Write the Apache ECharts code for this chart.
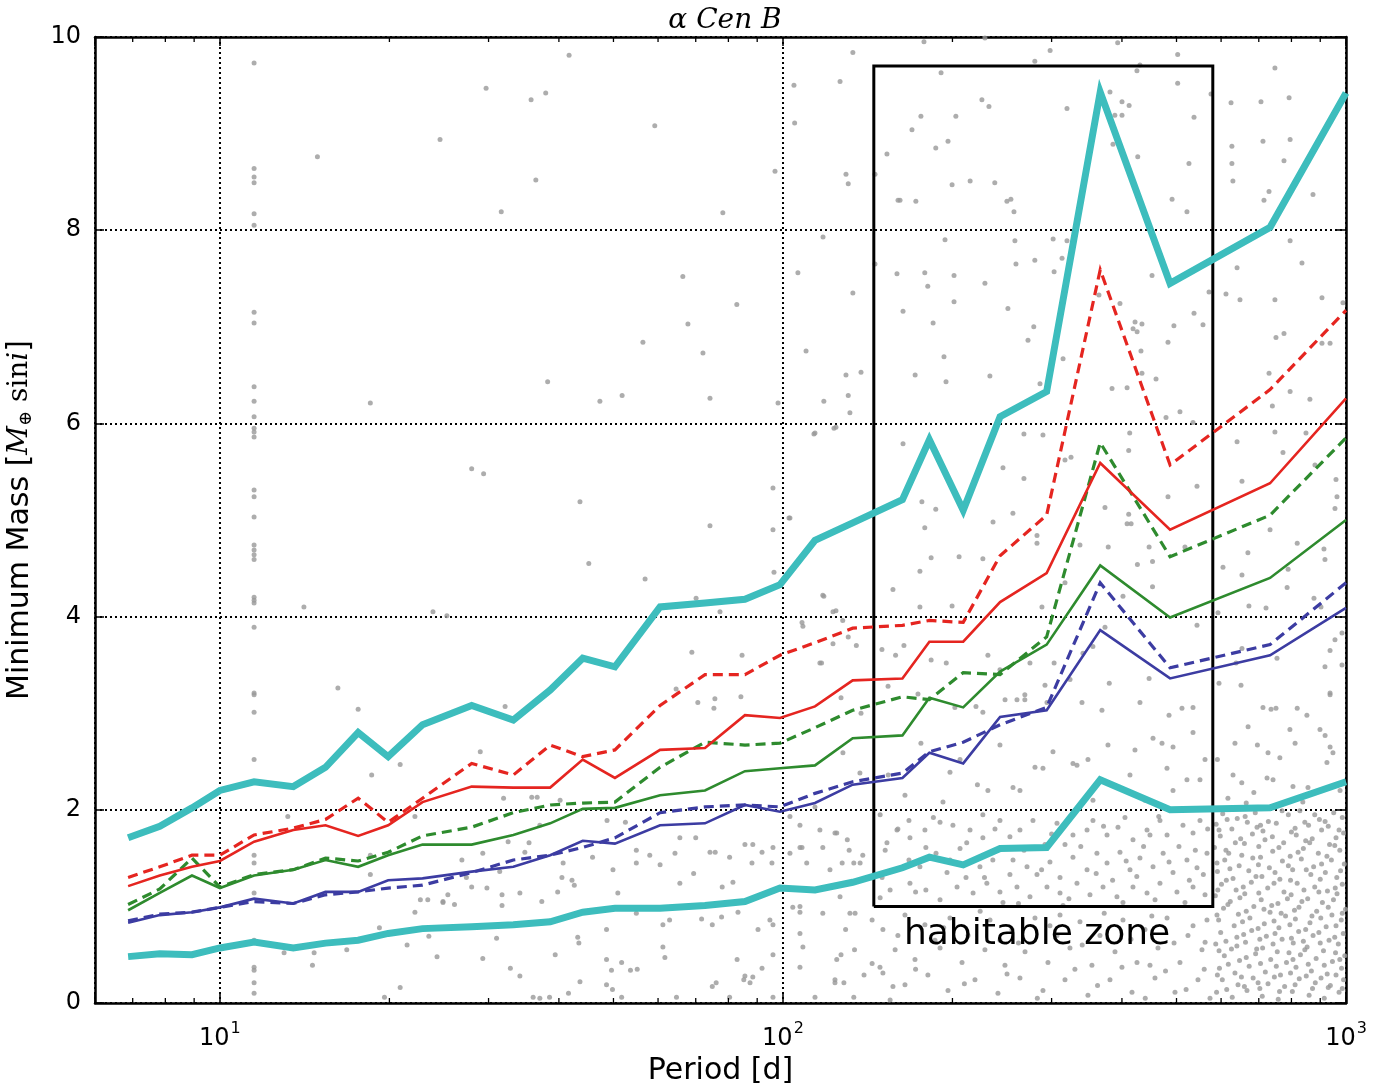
<!DOCTYPE html>
<html>
<head>
<meta charset="utf-8">
<script src="https://cdn.jsdelivr.net/npm/echarts@6/dist/echarts.min.js"></script>
<style>
  html, body { margin: 0; padding: 0; background: #fff; }
  #chart { width: 1390px; height: 1085px; }
</style>
</head>
<body>
<div id="chart"></div>
<script>
// periods (d) shared by all detection-limit curves
const periods = [6.87, 7.82, 8.92, 10.0, 11.5, 13.5, 15.4, 17.6, 19.9, 22.9, 28.0, 33.2, 38.6, 44.1, 50.3,
  60.5, 72.7, 85.6, 98.8, 114, 133, 163, 182, 209, 243, 294, 366, 487, 733, 1000];

const cyanHigh = [1.71, 1.83, 2.02, 2.20, 2.29, 2.24, 2.44, 2.80, 2.55, 2.88, 3.08, 2.93, 3.24, 3.57, 3.48,
  4.10, 4.14, 4.18, 4.33, 4.79, 4.97, 5.21, 5.83, 5.10, 6.07, 6.33, 9.43, 7.45, 8.03, 9.42];
const redDashed = [1.30, 1.41, 1.53, 1.53, 1.74, 1.81, 1.90, 2.12, 1.87, 2.12, 2.48, 2.36, 2.67, 2.55, 2.62,
  3.08, 3.40, 3.40, 3.60, 3.73, 3.88, 3.91, 3.96, 3.94, 4.63, 5.05, 7.59, 5.57, 6.35, 7.17];
const redSolid = [1.21, 1.32, 1.41, 1.47, 1.67, 1.79, 1.84, 1.73, 1.84, 2.08, 2.24, 2.23, 2.23, 2.52, 2.33,
  2.62, 2.64, 2.98, 2.95, 3.07, 3.34, 3.36, 3.74, 3.74, 4.15, 4.45, 5.59, 4.90, 5.38, 6.26];
const greenDashed = [1.02, 1.18, 1.50, 1.20, 1.33, 1.38, 1.50, 1.47, 1.56, 1.73, 1.82, 1.97, 2.05, 2.07, 2.08,
  2.44, 2.70, 2.67, 2.69, 2.85, 3.03, 3.17, 3.14, 3.42, 3.40, 3.79, 5.80, 4.62, 5.05, 5.85];
const greenSolid = [0.96, 1.14, 1.32, 1.19, 1.32, 1.38, 1.48, 1.41, 1.53, 1.64, 1.64, 1.74, 1.86, 2.01, 2.02,
  2.15, 2.20, 2.40, 2.43, 2.46, 2.74, 2.77, 3.16, 3.06, 3.43, 3.71, 4.53, 3.99, 4.40, 5.00];
const blueDashed = [0.85, 0.92, 0.94, 0.99, 1.05, 1.03, 1.12, 1.15, 1.19, 1.22, 1.35, 1.48, 1.53, 1.61, 1.71,
  1.97, 2.03, 2.05, 2.03, 2.17, 2.29, 2.38, 2.60, 2.70, 2.88, 3.06, 4.35, 3.47, 3.71, 4.35];
const blueSolid = [0.83, 0.91, 0.94, 0.99, 1.08, 1.03, 1.15, 1.15, 1.27, 1.29, 1.36, 1.41, 1.53, 1.68, 1.65,
  1.84, 1.86, 2.05, 1.98, 2.07, 2.26, 2.33, 2.59, 2.48, 2.96, 3.03, 3.86, 3.36, 3.60, 4.09];
const cyanLow = [0.48, 0.51, 0.50, 0.57, 0.63, 0.57, 0.62, 0.65, 0.72, 0.77, 0.79, 0.81, 0.84, 0.94, 0.98,
  0.98, 1.01, 1.05, 1.19, 1.17, 1.25, 1.40, 1.51, 1.43, 1.60, 1.61, 2.31, 2.00, 2.02, 2.29];

// habitable zone box corners [period, mass]
const hzBox = [[145, 1.0], [145, 9.7], [580, 9.7], [580, 1.0], [145, 1.0]];

// injected-signal points, [period, mass]
const column11 = [9.73, 8.64, 8.55, 8.49, 8.17, 8.05, 7.15, 7.04, 6.38, 6.23, 6.07, 5.95, 5.91, 5.86, 5.31, 5.24,
  5.03, 4.74, 4.69, 4.64, 4.59, 4.20, 4.17, 4.14, 3.89, 3.21, 3.19, 3.01, 2.52, 1.53, 1.45, 1.14, 0.65, 0.37,
  0.34, 0.21, 0.10];

const sparsePts = [
  [14.9, 8.76], [24.6, 8.94], [18.5, 6.21], [14.1, 4.10], [23.9, 4.05], [25.3, 4.01], [16.2, 3.26], [17.6, 3.04],
  [13.2, 1.93], [18.6, 2.36], [20.9, 2.47], [18.5, 1.53], [18.5, 1.33], [22.2, 1.93], [22.2, 0.94], [22.7, 1.07],
  [23.4, 1.07], [24.9, 1.04], [26.1, 1.02], [13.0, 0.52], [14.7, 0.52], [14.6, 0.39], [16.8, 0.55], [19.2, 0.78],
  [21.5, 0.60], [23.5, 0.69], [24.3, 0.48], [20.9, 0.16], [19.6, 0.06],
  [41.7, 9.81], [29.7, 9.47], [35.7, 9.35], [37.9, 9.42], [59.2, 9.08], [36.4, 8.52], [31.6, 8.19], [78.2, 8.18],
  [96.8, 8.61], [104.6, 9.50], [104.9, 9.11], [126.3, 9.54], [133.1, 9.84], [129.4, 8.58], [130.6, 8.48],
  [153.0, 8.79], [145.7, 8.58], [160.1, 8.31], [117.8, 7.93], [106.3, 7.56], [133.1, 7.35], [145.7, 7.65],
  [159.4, 7.55], [66.4, 7.52], [82.8, 7.23], [67.8, 7.03], [56.4, 6.84], [72.1, 6.73], [109.9, 6.75],
  [38.2, 6.43], [47.3, 6.23], [51.8, 6.29], [74.2, 6.26], [98.0, 6.21], [129.4, 6.50], [137.6, 6.53],
  [118.2, 6.23], [130.6, 6.29], [131.5, 6.11], [123.2, 5.95], [113.5, 5.89], [28.0, 5.53], [29.4, 5.48],
  [43.6, 5.19], [96.0, 5.33], [102.5, 5.02], [96.0, 4.90], [74.2, 4.94], [45.2, 4.55], [56.9, 4.39],
  [96.4, 4.46], [118.2, 4.21], [156.8, 4.28], [70.1, 4.19], [77.3, 4.05], [124.2, 4.06], [127.7, 3.96],
  [108.5, 3.90], [68.9, 3.63], [84.6, 3.60], [122.7, 3.72], [130.6, 3.79], [135.0, 3.70], [116.3, 3.52],
  [149.9, 3.66], [158.5, 3.60], [32.1, 3.07], [64.6, 3.25], [70.6, 3.11], [75.7, 3.15], [75.4, 3.05],
  [84.2, 3.17], [126.8, 3.16], [137.6, 3.00], [153.7, 3.28],
  [114.0, 5.90], [124.2, 5.96], [102.9, 5.02], [117.7, 4.22], [122.7, 4.05], [108.1, 3.94], [117.1, 3.52],
  [127.8, 2.59], [137.0, 2.38], [114.0, 2.03]
];

const hzUpperPts = [
  [178.0, 9.95], [228.4, 9.99], [298.2, 9.86], [280.1, 9.75], [393.1, 9.94], [502.4, 9.82], [430.6, 9.71],
  [425.3, 9.65], [190.9, 9.63], [502.4, 9.52], [575.8, 9.41], [747.8, 9.68], [624.9, 9.32], [706.3, 9.33],
  [792.4, 9.37], [380.9, 9.43], [400.1, 9.33], [411.9, 9.29], [388.6, 9.19], [400.1, 9.19], [319.5, 9.26],
  [225.6, 9.35], [232.2, 9.28], [175.8, 9.18], [202.8, 9.18], [169.5, 9.04], [196.4, 8.92], [186.8, 8.85],
  [537.1, 9.17], [385.6, 8.89], [426.7, 8.76], [526.1, 8.69], [627.1, 8.87], [627.1, 8.69], [629.7, 8.51],
  [712.1, 8.92], [795.7, 8.94], [776.0, 8.72], [729.9, 8.40], [715.0, 8.31], [873.7, 8.37], [199.7, 8.47],
  [215.0, 8.51], [237.8, 8.49], [172.2, 8.30], [161.4, 8.31], [249.9, 8.30], [254.0, 8.32], [257.2, 8.19],
  [491.0, 8.32], [521.8, 8.19], [194.0, 7.90], [258.2, 7.89], [301.9, 7.91], [319.5, 7.89], [795.7, 7.89],
  [640.5, 7.61], [835.3, 7.66], [178.6, 7.56], [180.8, 7.42], [201.3, 7.53], [228.4, 7.45], [259.3, 7.65],
  [280.1, 7.69], [303.1, 7.57], [313.1, 7.71], [452.4, 7.53], [163.4, 7.16], [201.3, 7.26], [250.9, 7.19],
  [184.8, 7.04], [278.9, 7.00], [272.4, 6.86], [364.1, 7.33], [396.8, 7.24], [422.0, 7.05], [434.1, 7.03],
  [418.6, 6.98], [425.6, 6.95], [432.4, 6.75], [482.9, 6.84], [494.7, 7.01], [537.1, 7.14], [557.2, 7.02],
  [571.1, 7.36], [612.1, 7.34], [648.2, 7.28], [747.8, 7.28], [906.4, 7.30], [987.7, 7.25], [751.0, 6.89],
  [776.0, 6.93], [906.4, 6.83], [936.9, 6.83], [314.4, 6.67], [193.2, 6.69],
  [171.7, 6.50], [194.8, 6.43], [233.1, 6.49], [286.1, 6.41], [384.1, 6.36], [408.5, 6.37], [434.1, 6.52],
  [459.8, 6.46], [730.0, 6.52], [795.7, 6.33], [862.7, 6.25], [740.0, 6.18], [507.1, 6.12], [534.9, 6.01],
  [479.0, 6.06], [163.4, 5.79], [267.9, 5.89], [289.6, 5.88], [412.9, 5.90], [411.2, 5.72], [324.8, 5.65],
  [316.9, 5.62], [640.5, 5.81], [747.8, 5.91], [849.0, 5.90], [772.8, 5.70], [880.8, 5.57], [245.9, 5.54],
  [267.9, 5.43], [959.9, 5.42], [543.7, 5.35], [482.9, 5.24], [653.5, 5.40], [176.5, 5.19], [186.8, 5.11],
  [236.1, 4.98], [256.1, 5.07], [411.2, 5.06], [373.2, 5.13], [408.5, 4.96], [415.3, 4.96], [178.6, 4.92],
  [282.6, 4.84], [282.6, 4.76], [733.0, 4.90], [955.9, 5.12], [963.8, 5.24], [336.9, 4.74], [378.2, 4.72],
  [447.0, 4.72], [517.6, 4.72], [819.1, 4.76], [913.8, 4.70], [183.3, 4.61], [205.5, 4.62], [226.5, 4.60],
  [175.1, 4.47], [426.1, 4.54], [453.3, 4.57], [669.5, 4.66], [917.5, 4.59], [604.7, 4.51], [789.2, 4.49],
  [653.5, 4.43], [316.9, 4.35], [453.3, 4.31], [786.0, 4.30], [401.7, 4.21], [175.1, 4.10], [199.7, 4.11],
  [288.4, 4.10], [877.2, 4.19], [902.7, 4.10], [672.3, 4.11], [592.4, 4.04], [721.0, 4.09], [543.7, 3.91],
  [164.0, 3.70], [183.3, 3.55], [195.0, 3.52], [231.2, 3.60], [274.6, 3.52], [373.2, 3.89], [355.2, 3.69],
  [341.1, 3.62], [653.5, 3.67], [936.9, 3.65], [955.9, 3.76], [917.5, 3.48], [983.7, 3.50], [637.9, 3.52],
  [754.1, 3.57], [242.9, 3.45], [303.1, 3.52], [323.5, 3.35], [379.8, 3.31], [447.0, 3.36], [594.9, 3.31],
  [650.9, 3.29], [936.9, 3.21], [173.7, 3.20], [202.0, 3.06], [220.2, 3.07], [226.5, 3.01], [248.0, 3.14],
  [268.9, 3.19], [268.9, 3.14], [260.4, 3.14], [292.0, 3.29], [294.4, 3.11], [339.7, 3.11], [368.6, 3.03],
  [430.6, 3.11], [484.9, 2.98], [511.3, 3.05], [534.9, 3.06], [712.1, 3.06], [736.0, 3.04], [751.0, 3.05],
  [819.1, 3.05], [852.2, 2.98], [936.9, 3.19], [983.7, 3.83]
];

const midLowPts = [
  [29.0, 2.60], [31.9, 2.12], [35.8, 2.13], [36.6, 2.13], [40.2, 2.10], [26.9, 1.48], [29.3, 1.55], [31.4, 1.36],
  [34.8, 1.56], [32.5, 1.67], [35.4, 1.66], [40.7, 1.45], [37.0, 1.84], [48.7, 1.89], [52.5, 1.87], [25.4, 1.12],
  [28.0, 1.20], [27.4, 1.30], [29.8, 1.19], [31.7, 1.12], [31.7, 1.01], [34.1, 1.14], [37.3, 1.05], [39.8, 1.15],
  [42.2, 1.27], [42.6, 1.22], [40.5, 1.30], [45.9, 1.51], [49.9, 1.38], [50.9, 1.14], [54.9, 1.58], [54.9, 1.45],
  [58.0, 1.53], [60.5, 1.43], [65.6, 1.71], [70.0, 1.71], [65.6, 1.24], [69.4, 1.34], [64.3, 1.55], [74.2, 1.56],
  [75.8, 1.56], [80.4, 1.51], [78.0, 1.20], [81.5, 1.25], [88.1, 1.45], [85.6, 1.64], [88.4, 1.64], [91.8, 1.56],
  [95.6, 1.45], [96.0, 1.61], [102.9, 1.55], [107.2, 1.84], [107.2, 1.61], [110.2, 1.45], [116.3, 1.79],
  [124.6, 1.76], [117.7, 1.61], [130.1, 1.69], [131.1, 1.58], [138.6, 1.53], [127.4, 1.45], [133.6, 1.45],
  [153.0, 1.66], [159.4, 1.79], [24.9, 1.05], [31.0, 0.67], [29.3, 0.46], [32.8, 0.36], [34.1, 0.28], [39.4, 0.50],
  [36.0, 0.06], [37.0, 0.05], [38.5, 0.06], [41.6, 0.10], [43.2, 0.68], [43.4, 0.62], [43.6, 0.22], [48.6, 0.76],
  [48.6, 0.45], [51.7, 0.42], [49.6, 0.34], [53.6, 0.34], [55.1, 0.35], [48.6, 0.19], [49.8, 0.14], [51.7, 0.06],
  [54.9, 0.93], [61.2, 0.81], [61.2, 0.58], [61.7, 0.47], [62.9, 0.86], [64.7, 0.06], [71.7, 0.87], [77.8, 0.89],
  [74.9, 0.81], [82.9, 0.45], [85.6, 0.28], [88.4, 0.27], [85.2, 0.24], [87.4, 0.21], [74.9, 0.17], [76.1, 0.21],
  [80.4, 0.06], [83.2, 0.94], [90.3, 0.76], [94.8, 0.86], [96.0, 0.81], [91.8, 0.36], [96.0, 0.50], [96.0, 0.06],
  [104.1, 0.99], [107.2, 0.94], [107.2, 0.72], [108.5, 0.58], [107.2, 0.37], [114.0, 0.06], [117.7, 0.93],
  [124.6, 0.45], [126.8, 0.50], [129.2, 0.76], [131.5, 0.93], [134.0, 0.55], [123.7, 0.24], [123.7, 0.21],
  [128.3, 0.21], [133.6, 0.06], [139.3, 0.29], [144.0, 0.41], [148.7, 0.37], [150.5, 0.31], [156.8, 0.17],
  [144.0, 0.86], [150.5, 0.76], [102.9, 1.93], [108.1, 1.61], [123.7, 1.76], [121.2, 1.38], [137.1, 1.45],
  [126.3, 1.10], [107.2, 1.00], [134.3, 0.93]
];

const hzLowPts = [
  [175.8, 2.69], [198.0, 2.39], [221.5, 2.26], [231.2, 2.20], [256.2, 2.23], [280.3, 2.44], [289.6, 2.43],
  [301.7, 2.60], [327.4, 2.48], [332.8, 2.46], [348.1, 2.52], [377.8, 2.67], [413.4, 2.36], [421.9, 2.62],
  [454.2, 2.74], [471.2, 2.69], [492.9, 2.65], [534.9, 2.80], [521.8, 2.31], [550.4, 2.31], [492.9, 2.20],
  [480.9, 2.43], [192.4, 2.08], [164.7, 2.15], [206.3, 2.52], [242.9, 2.67], [263.6, 2.20], [355.3, 2.10],
  [439.5, 2.10], [153.8, 2.36], [561.8, 2.52],
  [167.4, 1.89], [190.1, 1.87], [226.5, 1.95], [242.9, 1.89], [278.0, 1.89], [355.3, 1.89], [393.6, 1.82],
  [467.3, 1.89], [550.4, 1.89], [306.7, 1.86], [148.8, 1.95], [178.7, 1.79], [200.4, 1.84], [214.9, 1.79],
  [253.0, 1.72], [263.6, 1.79], [327.4, 1.74], [346.8, 1.79], [376.3, 1.74], [418.5, 1.69], [443.2, 1.79],
  [448.6, 1.74], [481.0, 1.74], [513.4, 1.84], [534.9, 1.76], [168.1, 1.71], [226.5, 1.71], [292.0, 1.64],
  [405.0, 1.92], [179.4, 1.61], [298.0, 1.46], [187.0, 1.55], [195.6, 1.35], [211.4, 1.30], [223.8, 1.41],
  [235.9, 1.48], [256.2, 1.48], [271.3, 1.41], [282.6, 1.33], [310.5, 1.30], [327.4, 1.51], [346.8, 1.38],
  [361.1, 1.55], [376.3, 1.45], [396.8, 1.56], [413.4, 1.38], [430.6, 1.50], [454.2, 1.41], [473.4, 1.55],
  [492.9, 1.35], [521.8, 1.48], [543.7, 1.40], [566.4, 1.55], [167.4, 1.48], [175.1, 1.41], [151.9, 1.58],
  [206.3, 1.60], [253.0, 1.33], [316.9, 1.64], [168.1, 1.24], [179.4, 1.17], [203.8, 1.20], [217.6, 1.14],
  [230.2, 1.24], [242.9, 1.15], [260.4, 1.20], [274.6, 1.10], [294.4, 1.20], [310.5, 1.14], [332.8, 1.24],
  [351.0, 1.12], [370.2, 1.20], [391.9, 1.10], [418.5, 1.20], [443.2, 1.14], [467.3, 1.24], [500.9, 1.15],
  [534.9, 1.20], [561.8, 1.12], [155.0, 1.17], [190.1, 1.07], [245.9, 1.04], [314.4, 1.01], [401.7, 1.04],
  [517.6, 1.04], [148.8, 1.09],
  [164.7, 0.91], [178.7, 0.81], [198.0, 0.88], [213.2, 0.70], [233.2, 0.86], [255.1, 0.76], [280.3, 0.88],
  [306.7, 0.70], [336.9, 0.84], [365.6, 0.70], [401.7, 0.86], [439.5, 0.76], [481.0, 0.88], [524.0, 0.70],
  [566.4, 0.86], [158.2, 0.55], [171.6, 0.45], [190.1, 0.57], [208.0, 0.42], [228.4, 0.55], [247.9, 0.39],
  [269.1, 0.53], [295.6, 0.42], [323.4, 0.57], [353.8, 0.39], [388.8, 0.53], [425.4, 0.42], [463.5, 0.57],
  [507.1, 0.42], [554.9, 0.55], [164.7, 0.19], [180.9, 0.29], [196.4, 0.13], [219.3, 0.24], [240.9, 0.10],
  [263.6, 0.26], [289.6, 0.13], [316.9, 0.24], [348.1, 0.08], [380.9, 0.24], [416.8, 0.11], [457.9, 0.26],
  [496.9, 0.11], [545.9, 0.24], [573.4, 0.05], [155.0, 0.03], [186.2, 0.65], [310.5, 0.91], [448.6, 0.39],
  [242.9, 0.65],
  [160, 1.80], [185, 1.92], [212, 1.66], [238, 1.80], [268, 1.58], [300, 1.75], [338, 1.62], [371, 1.83],
  [407, 1.47], [437, 1.62], [465, 1.93], [505, 1.62], [540, 1.58], [568, 1.80], [150, 1.30], [172, 1.15],
  [198, 1.48], [228, 1.30], [262, 1.03], [288, 1.38], [322, 1.08], [360, 1.34], [385, 1.27], [425, 1.31],
  [458, 1.07], [485, 1.46], [527, 1.27], [558, 1.33], [160, 0.70], [193, 0.78], [224, 0.95], [262, 0.62],
  [298, 0.80], [340, 0.60], [372, 0.93], [415, 0.66], [452, 0.90], [495, 0.62], [535, 0.80], [562, 0.63],
  [172, 0.35], [210, 0.20], [250, 0.30], [283, 0.05], [330, 0.35], [362, 0.18], [400, 0.37], [440, 0.05],
  [478, 0.33], [520, 0.14], [560, 0.35]
];

const rightPts = [
  [670, 2.86], [696, 2.67], [635, 2.69], [727, 2.59], [763, 2.54], [795, 2.83], [812, 2.69], [899, 2.83],
  [918, 2.77], [937, 2.65], [948, 2.59], [925, 2.49], [630, 2.36], [653, 2.28], [686, 2.18], [724, 2.33],
  [742, 2.31], [805, 2.24], [856, 2.23], [838, 2.08], [665, 2.07], [617, 2.12], [976, 2.20], [591, 2.52],
  [604, 1.96], [641, 1.91], [690, 1.97], [728, 1.88], [790, 1.95], [828, 1.99], [897, 1.90], [951, 1.97],
  [588, 1.85], [627, 1.80], [668, 1.87], [712, 1.78], [752, 1.86], [812, 1.81], [858, 1.84], [918, 1.88], [972, 1.79],
  [598, 1.73], [636, 1.66], [682, 1.75], [718, 1.69], [775, 1.66], [816, 1.74], [871, 1.70], [935, 1.64], [990, 1.76],
  [584, 1.61], [619, 1.55], [653, 1.53], [700, 1.62], [741, 1.57], [796, 1.52], [840, 1.60], [893, 1.55], [955, 1.63],
  [609, 1.48], [646, 1.42], [683, 1.50], [731, 1.40], [771, 1.47], [833, 1.49], [876, 1.41], [942, 1.48], [993, 1.44],
  [591, 1.36], [630, 1.29], [672, 1.37], [709, 1.31], [763, 1.28], [804, 1.38], [866, 1.33], [919, 1.35], [978, 1.37],
  [601, 1.23], [638, 1.17], [679, 1.25], [726, 1.19], [776, 1.15], [819, 1.24], [880, 1.20], [927, 1.16], [985, 1.23],
  [586, 1.11], [623, 1.05], [661, 1.13], [707, 1.07], [757, 1.03], [799, 1.12], [855, 1.08], [908, 1.04], [964, 1.13],
  [606, 0.98], [644, 0.92], [686, 1.00], [733, 0.94], [781, 0.90], [825, 0.99], [887, 0.95], [944, 0.91], [998, 0.97],
  [594, 0.86], [633, 0.80], [675, 0.88], [716, 0.82], [760, 0.78], [813, 0.87], [863, 0.83], [922, 0.79], [981, 0.86],
  [599, 0.73], [640, 0.68], [680, 0.75], [722, 0.69], [770, 0.66], [824, 0.74], [874, 0.70], [933, 0.65], [989, 0.72],
  [587, 0.61], [626, 0.56], [663, 0.63], [711, 0.57], [755, 0.53], [806, 0.62], [853, 0.58], [912, 0.54], [969, 0.61],
  [608, 0.49], [647, 0.44], [691, 0.51], [735, 0.45], [784, 0.42], [830, 0.50], [885, 0.46], [946, 0.43], [995, 0.49],
  [596, 0.36], [635, 0.31], [673, 0.38], [719, 0.32], [765, 0.29], [815, 0.37], [868, 0.33], [926, 0.30], [982, 0.36],
  [603, 0.24], [643, 0.19], [684, 0.26], [727, 0.20], [778, 0.17], [826, 0.25], [882, 0.21], [938, 0.18], [990, 0.24],
  [589, 0.11], [628, 0.06], [667, 0.13], [710, 0.07], [758, 0.04], [803, 0.12], [860, 0.08], [915, 0.05], [972, 0.11],
  [615, 1.90], [662, 1.93], [705, 1.84], [770, 1.99], [845, 1.87], [880, 1.95], [930, 1.83], [985, 1.92],
  [595, 1.79], [650, 1.70], [695, 1.82], [740, 1.72], [800, 1.77], [848, 1.68], [905, 1.79], [960, 1.71],
  [612, 1.58], [660, 1.65], [705, 1.51], [760, 1.61], [822, 1.56], [862, 1.66], [925, 1.52], [975, 1.58],
  [590, 1.45], [622, 1.39], [699, 1.43], [748, 1.35], [790, 1.42], [850, 1.38], [905, 1.44], [963, 1.30],
  [613, 1.27], [657, 1.20], [692, 1.31], [745, 1.24], [797, 1.27], [842, 1.17], [900, 1.28], [957, 1.19],
  [592, 1.17], [648, 1.09], [700, 1.14], [738, 1.01], [787, 1.08], [835, 1.05], [895, 1.15], [950, 1.07],
  [617, 1.02], [665, 0.95], [715, 0.97], [767, 0.93], [810, 0.96], [870, 0.90], [930, 0.99], [985, 0.93],
  [590, 0.91], [655, 0.84], [698, 0.77], [745, 0.85], [795, 0.81], [848, 0.76], [902, 0.88], [960, 0.80],
  [612, 0.64], [658, 0.71], [703, 0.66], [748, 0.72], [800, 0.67], [840, 0.64], [895, 0.73], [955, 0.68],
  [595, 0.54], [640, 0.59], [694, 0.56], [742, 0.61], [792, 0.52], [845, 0.55], [900, 0.62], [958, 0.52],
  [618, 0.40], [665, 0.47], [705, 0.41], [752, 0.38], [805, 0.45], [857, 0.40], [915, 0.39], [975, 0.45],
  [591, 0.29], [652, 0.27], [698, 0.21], [746, 0.27], [797, 0.31], [850, 0.28], [903, 0.26], [960, 0.29],
  [614, 0.14], [660, 0.17], [703, 0.15], [762, 0.12], [812, 0.19], [872, 0.15], [930, 0.16], [985, 0.15]
];

// minor tick positions on the log axis
const minorTicks = [7, 8, 9, 20, 30, 40, 50, 60, 70, 80, 90, 200, 300, 400, 500, 600, 700, 800, 900];

const scatterData = column11.map(m => [11.5, m])
  .concat(sparsePts, hzUpperPts, midLowPts, hzLowPts, rightPts);

function curve(vals) {
  return periods.map((p, i) => [p, vals[i]]);
}

const cyan = '#3dbdbd', red = '#e52520', green = '#2e8b2e', blue = '#3c3ca2';
const font = 'DejaVu Sans';

function lineSeries(name, vals, color, width, dashed, z) {
  return {
    name: name,
    type: 'line',
    data: curve(vals),
    symbol: 'none',
    z: z,
    lineStyle: {
      color: color,
      width: width,
      type: dashed ? [10, 6] : 'solid',
      join: 'miter'
    },
    animation: false
  };
}

const chart = echarts.init(document.getElementById('chart'));

const xFmt = function (v) {
  const e = Math.log10(v);
  const r = Math.round(e);
  if (Math.abs(e - r) < 1e-6) return '{b|10}{s|' + r + '}';
  return '';
};

chart.setOption({
  backgroundColor: '#fff',
  animation: false,
  title: {
    text: 'α Cen B',
    left: 720,
    top: 2,
    textAlign: 'center',
    textStyle: { fontFamily: 'DejaVu Serif', fontStyle: 'italic', fontWeight: 'normal', fontSize: 28, color: '#000' }
  },
  grid: { left: 95, right: 44, top: 37, bottom: 82, outerBoundsMode: 'none', containLabel: false },
  xAxis: [
    {
      type: 'log',
      logBase: 10,
      min: 6,
      max: 1000,
      name: 'Period [d]',
      nameLocation: 'middle',
      nameGap: 50,
      nameTextStyle: { fontFamily: font, fontSize: 30, color: '#000' },
      axisLine: { show: true, onZero: false, lineStyle: { color: '#000', width: 2.5 } },
      axisTick: { show: true, inside: true, length: 9, lineStyle: { color: '#000', width: 1.5 } },
      axisLabel: {
        formatter: xFmt,
        margin: 18,
        rich: {
          b: { fontFamily: font, fontSize: 24, color: '#000', lineHeight: 30, verticalAlign: 'bottom' },
          s: { fontFamily: font, fontSize: 16, color: '#000', lineHeight: 30, verticalAlign: 'top', padding: [0, 0, 0, 1] }
        }
      },
      splitLine: { show: true, lineStyle: { color: '#000', width: 2, type: [2, 3] } }
    },
    {
      type: 'log',
      logBase: 10,
      min: 6,
      max: 1000,
      position: 'top',
      axisLine: { show: true, onZero: false, lineStyle: { color: '#000', width: 2.5 } },
      axisTick: { show: true, inside: true, length: 9, lineStyle: { color: '#000', width: 1.5 } },
      axisLabel: { show: false },
      splitLine: { show: false }
    }
  ],
  yAxis: [
    {
      type: 'value',
      min: 0,
      max: 10,
      interval: 2,
      name: 'Minimum Mass [{mi|M}{sub|⊕}{rm| sin}{mi|i}]',
      nameLocation: 'middle',
      nameGap: 60,
      nameTextStyle: {
        fontFamily: font, fontSize: 30, color: '#000',
        rich: {
          mi: { fontFamily: 'DejaVu Serif', fontStyle: 'italic', fontSize: 28, color: '#000' },
          rm: { fontFamily: 'DejaVu Serif', fontSize: 28, color: '#000' },
          sub: { fontFamily: 'DejaVu Serif', fontSize: 18, color: '#000', verticalAlign: 'bottom', padding: [8, 0, 0, 0] }
        }
      },
      axisLine: { show: true, lineStyle: { color: '#000', width: 2.5 } },
      axisTick: { show: true, inside: true, length: 9, lineStyle: { color: '#000', width: 1.5 } },
      axisLabel: { fontFamily: font, fontSize: 24, color: '#000', margin: 14 },
      splitLine: { show: true, lineStyle: { color: '#000', width: 2, type: [2, 3] } }
    },
    {
      type: 'value',
      min: 0,
      max: 10,
      interval: 2,
      position: 'right',
      axisLine: { show: true, lineStyle: { color: '#000', width: 2.5 } },
      axisTick: { show: true, inside: true, length: 9, lineStyle: { color: '#000', width: 1.5 } },
      axisLabel: { show: false },
      splitLine: { show: false }
    }
  ],
  series: [
    {
      name: 'signals',
      type: 'scatter',
      data: scatterData,
      symbolSize: 5,
      itemStyle: { color: '#999999' },
      z: 1,
      silent: true
    },
    {
      name: 'minorTicks',
      type: 'custom',
      data: minorTicks.map(v => [v, 0]),
      clip: false,
      z: 6,
      silent: true,
      renderItem: function (params, api) {
        const b = api.coord([api.value(0), 0]);
        const t = api.coord([api.value(0), 10]);
        const st = { stroke: '#000', lineWidth: 1.3 };
        return {
          type: 'group',
          children: [
            { type: 'line', shape: { x1: b[0], y1: b[1], x2: b[0], y2: b[1] - 5 }, style: st },
            { type: 'line', shape: { x1: t[0], y1: t[1], x2: t[0], y2: t[1] + 5 }, style: st }
          ]
        };
      }
    },
    {
      name: 'habitable zone',
      type: 'line',
      data: hzBox,
      symbol: 'none',
      z: 2,
      lineStyle: { color: '#000', width: 3, join: 'miter' },
      markPoint: {
        symbol: 'circle',
        symbolSize: 0,
        data: [{ coord: [164, 0.71], value: 'habitable zone' }],
        label: {
          show: true,
          position: 'right',
          distance: 0,
          formatter: 'habitable zone',
          fontFamily: font,
          fontSize: 36,
          color: '#000'
        }
      }
    },
    lineSeries('blue dashed', blueDashed, blue, 3.2, true, 3),
    lineSeries('blue', blueSolid, blue, 2.6, false, 3),
    lineSeries('green dashed', greenDashed, green, 3.2, true, 3),
    lineSeries('green', greenSolid, green, 2.6, false, 3),
    lineSeries('red dashed', redDashed, red, 3.2, true, 3),
    lineSeries('red', redSolid, red, 2.6, false, 3),
    lineSeries('cyan high', cyanHigh, cyan, 7, false, 4),
    lineSeries('cyan low', cyanLow, cyan, 7, false, 4)
  ]
});
</script>
</body>
</html>
